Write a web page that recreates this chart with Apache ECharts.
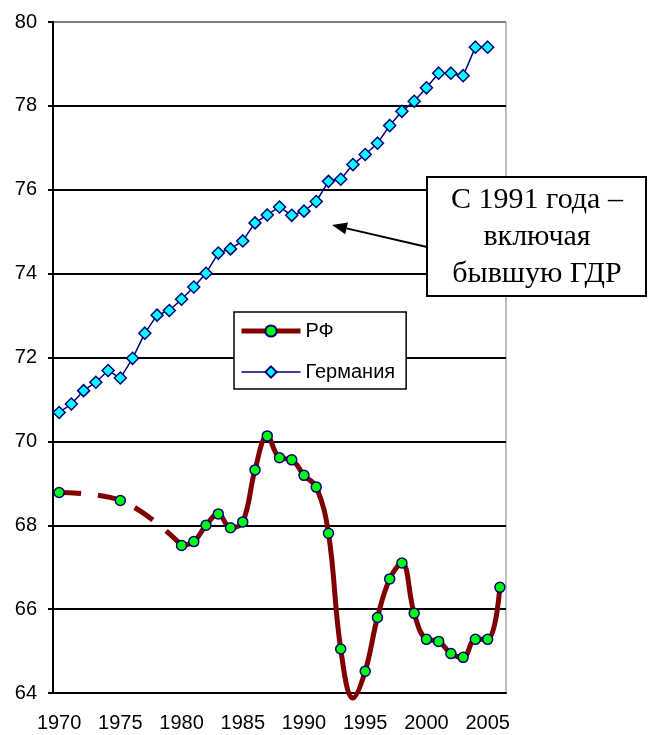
<!DOCTYPE html>
<html>
<head>
<meta charset="utf-8">
<script src="https://cdn.jsdelivr.net/npm/echarts@6/dist/echarts.min.js"></script>
<style>
  html, body { margin: 0; padding: 0; background: #fff; }
  #chart { width: 648px; height: 735px; }
</style>
</head>
<body>
<div id="chart"></div>
<script>
// Life expectancy at birth, years
const years = [];
for (let y = 1970; y <= 2006; y++) years.push(String(y));

// Russia: sparse before 1980 (shown dashed), annual from 1980
const rfEarlyYears = ['1970', '1975', '1980'];
const rfEarly = [68.78, 68.59, 67.52];
const rfYears = ['1970', '1975', '1980', '1981', '1982', '1983', '1984', '1985', '1986', '1987',
  '1988', '1989', '1990', '1991', '1992', '1993', '1994', '1995', '1996', '1997', '1998',
  '1999', '2000', '2001', '2002', '2003', '2004', '2005', '2006'];
const rfValues = [68.78, 68.59, 67.52, 67.61, 68.00, 68.27, 67.94, 68.08, 69.32, 70.13,
  69.61, 69.56, 69.19, 68.91, 67.81, 65.05, 63.88, 64.52, 65.80, 66.72, 67.10,
  65.90, 65.28, 65.23, 64.94, 64.85, 65.28, 65.28, 66.52];

// Germany, 1970-2005 (from 1991 including the former GDR)
const deValues = [70.69, 70.89, 71.21, 71.41, 71.69, 71.51, 71.98, 72.58, 73.01, 73.12,
  73.39, 73.68, 74.01, 74.49, 74.59, 74.78, 75.21, 75.40, 75.59, 75.39, 75.49,
  75.72, 76.20, 76.25, 76.60, 76.84, 77.11, 77.53, 77.87, 78.11, 78.43,
  78.78, 78.78, 78.72, 79.40, 79.40];

const yMin = 64, yMax = 80, yStep = 2;

const noteLines = ['С 1991 года –', 'включая', 'бывшую ГДР'];

// Russian series: full annual data with gaps in the 1970s (markers only there)
const rfData = [];
years.forEach(function (yr) {
  const i = rfYears.indexOf(yr);
  if (i < 0) { rfData.push(null); return; }
  const v = rfValues[i];
  // values below the axis minimum get no marker
  rfData.push(v < yMin ? { value: v, symbol: 'none' } : v);
});
const rfDashData = rfEarlyYears.map(function (yr, i) { return [yr, rfEarly[i]]; });

const chart = echarts.init(document.getElementById('chart'), null, { renderer: 'canvas' });

const splitColors = [];
for (let v = yMin; v <= yMax; v += yStep) splitColors.push(v === yMax ? '#808080' : '#000000');

// arrow geometry for the callout
const arrowFrom = [427, 247], arrowTip = [332, 225];
const adx = arrowFrom[0] - arrowTip[0], ady = arrowFrom[1] - arrowTip[1];
const alen = Math.sqrt(adx * adx + ady * ady);
const ux = adx / alen, uy = ady / alen;
const headLen = 15, headHalf = 6;
const bx = arrowTip[0] + ux * headLen, by = arrowTip[1] + uy * headLen;

chart.setOption({
  backgroundColor: '#ffffff',
  animation: false,
  textStyle: { fontFamily: 'Liberation Sans, Arial, sans-serif' },
  grid: {
    left: 53, top: 22, width: 453, height: 671,
    show: true, borderColor: '#808080', borderWidth: 1, backgroundColor: 'transparent'
  },
  legend: {
    orient: 'vertical',
    left: 234, top: 312,
    padding: [9, 11, 7, 5],
    itemGap: 21,
    itemWidth: 59,
    itemHeight: 14,
    backgroundColor: '#ffffff',
    borderColor: '#000000',
    borderWidth: 1.5,
    lineStyle: { width: 'inherit' },
    textStyle: { fontSize: 20, color: '#000', fontFamily: 'Liberation Sans, Arial, sans-serif' },
    data: ['РФ', 'Германия']
  },
  xAxis: {
    type: 'category',
    data: years,
    boundaryGap: true,
    axisLine: { lineStyle: { color: '#000', width: 2 } },
    axisTick: { interval: 4, length: 6, lineStyle: { color: '#000', width: 2 } },
    axisLabel: { interval: 4, fontSize: 20, color: '#000', margin: 20 },
    splitLine: { show: false }
  },
  yAxis: {
    type: 'value',
    min: yMin, max: yMax, interval: yStep,
    axisLine: { show: true, lineStyle: { color: '#000', width: 2 } },
    axisTick: { show: true, length: 5, lineStyle: { color: '#000', width: 2 } },
    axisLabel: { fontSize: 20, color: '#000', margin: 16 },
    splitLine: { show: true, lineStyle: { color: splitColors, width: 2 } }
  },
  series: [
    {
      name: 'РФ-1970s',
      type: 'line',
      data: rfDashData,
      smooth: 0.4,
      showSymbol: false,
      symbol: 'none',
      clip: false,
      z: 3,
      lineStyle: { color: '#800000', width: 5, type: [22, 17], cap: 'butt' },
      tooltip: { show: false }
    },
    {
      name: 'РФ',
      type: 'line',
      data: rfData,
      smooth: 0.4,
      clip: false,
      symbol: 'circle',
      symbolSize: 10,
      showAllSymbol: true,
      z: 4,
      lineStyle: { color: '#800000', width: 5 },
      itemStyle: { color: '#00ff00', borderColor: '#000080', borderWidth: 1.5 }
    },
    {
      name: 'Германия',
      type: 'line',
      data: deValues,
      symbol: 'diamond',
      symbolSize: 12,
      showAllSymbol: true,
      z: 5,
      lineStyle: { color: '#000080', width: 1.5 },
      itemStyle: { color: '#00ffff', borderColor: '#000080', borderWidth: 1.5 }
    }
  ],
  graphic: [
    {
      type: 'line',
      z: 100,
      shape: { x1: arrowFrom[0], y1: arrowFrom[1], x2: bx, y2: by },
      style: { stroke: '#000', lineWidth: 2 }
    },
    {
      type: 'polygon',
      z: 100,
      shape: {
        points: [
          arrowTip,
          [bx - uy * headHalf, by + ux * headHalf],
          [bx + uy * headHalf, by - ux * headHalf]
        ]
      },
      style: { fill: '#000' }
    },
    {
      type: 'rect',
      z: 100,
      shape: { x: 427, y: 177, width: 219, height: 119 },
      style: { fill: '#ffffff', stroke: '#000', lineWidth: 2 }
    },
    {
      type: 'text',
      z: 101,
      x: 537, y: 237,
      style: {
        text: noteLines.join('\n'),
        font: '30px "Liberation Serif", "Times New Roman", serif',
        fill: '#000',
        align: 'center',
        verticalAlign: 'middle',
        lineHeight: 37
      }
    }
  ]
});
</script>
</body>
</html>
